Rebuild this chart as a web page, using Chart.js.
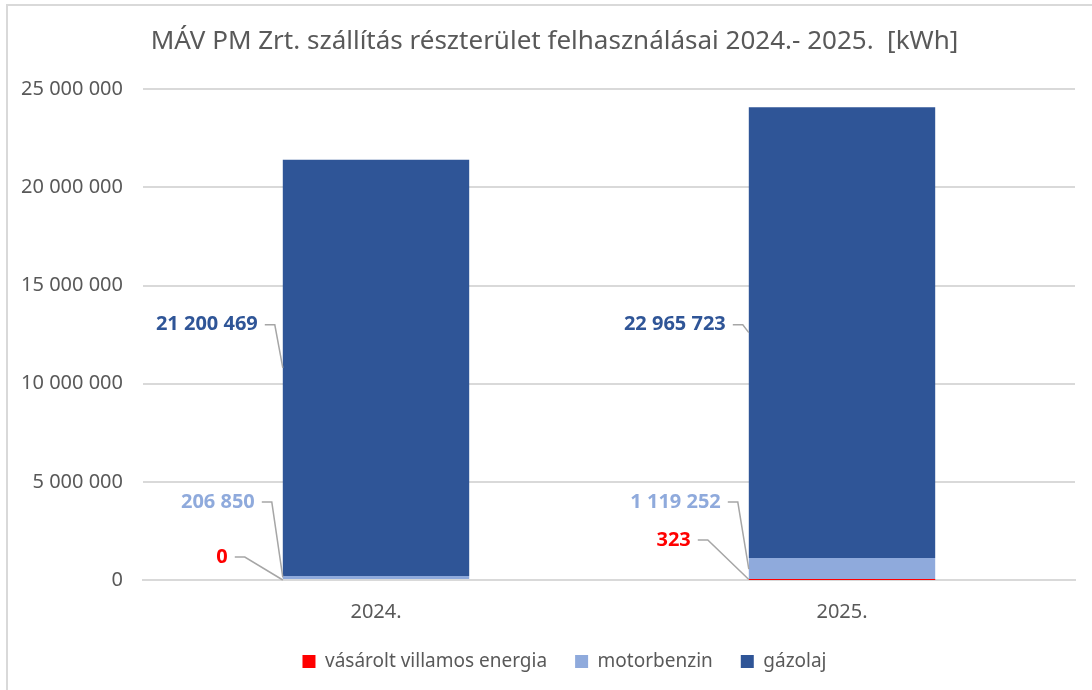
<!DOCTYPE html>
<html>
<head>
<meta charset="utf-8">
<script src="https://cdn.jsdelivr.net/npm/chart.js@4"></script>
<style>
  html, body { margin: 0; padding: 0; background: #fff; }
  #wrap { width: 1092px; height: 690px; position: relative; }
</style>
</head>
<body>
<div id="wrap"><canvas id="myChart" width="1092" height="690"></canvas></div>
<script>
const years = ["2024.", "2025."];
const seriesNames = ["vásárolt villamos energia", "motorbenzin", "gázolaj"];
const villamos = [0, 323];
const motorbenzin = [206850, 1119252];
const gazolaj = [21200469, 22965723];
const yTicks = [0, 5000000, 10000000, 15000000, 20000000, 25000000];
// where the labels sit (value units), Excel placed them by hand
const labelAt = [[1170000, 2040000], [3970000, 3970000], [13000000, 13000000]];
const labelGap = [[55, 58], [28, 28], [25, 23]];

const colors = ["#FF0000", "#8FAADC", "#2F5597"];
const grey = "#595959";
const fmt = (v) => String(v).replace(/\B(?=(\d{3})+(?!\d))/g, " ");

// data labels with leader lines
const leaderLabels = {
  id: "leaderLabels",
  afterDatasetsDraw(chart) {
    const c = chart.ctx;
    const y = chart.scales.y;
    chart.data.datasets.forEach((ds, i) => {
      const meta = chart.getDatasetMeta(i);
      meta.data.forEach((bar, j) => {
        const left = bar.x - bar.width / 2;
        const midY = (bar.y + bar.base) / 2;
        const ly = y.getPixelForValue(labelAt[i][j]);
        const tr = left - labelGap[i][j];
        c.save();
        c.font = "bold 20px 'Noto Sans'";
        c.fillStyle = colors[i];
        c.textAlign = "right";
        c.textBaseline = "middle";
        c.fillText(fmt(ds.data[j]), tr, ly);
        c.strokeStyle = "#a6a6a6";
        c.lineWidth = 1.5;
        c.beginPath();
        c.moveTo(tr + 7, ly);
        c.lineTo(tr + 17, ly);
        c.lineTo(left, midY);
        c.stroke();
        c.restore();
      });
    });
  },
};

// white background + the light frame on top and left
const frame = {
  id: "frame",
  beforeDraw(chart) {
    const c = chart.ctx;
    c.save();
    c.fillStyle = "#fff";
    c.fillRect(0, 0, chart.width, chart.height);
    c.strokeStyle = "#d9d9d9";
    c.lineWidth = 2;
    c.beginPath();
    c.moveTo(7, chart.height);
    c.lineTo(7, 5);
    c.lineTo(chart.width, 5);
    c.stroke();
    c.restore();
  },
};

// excel centres title and legend a bit right of the canvas middle
const nudge = {
  id: "nudge",
  afterLayout(chart) {
    chart.titleBlock.left += 17;
    chart.titleBlock.right += 17;
    chart.legend.left += 27;
    chart.legend.right += 27;
  },
};

const ctx = document.getElementById("myChart");
new Chart(ctx, {
  type: "bar",
  data: {
    labels: years,
    datasets: [
      { label: seriesNames[0], data: villamos, backgroundColor: colors[0], inflateAmount: 0 },
      { label: seriesNames[1], data: motorbenzin, backgroundColor: colors[1] },
      { label: seriesNames[2], data: gazolaj, backgroundColor: colors[2] },
    ],
  },
  options: {
    responsive: false,
    animation: false,
    layout: { padding: { left: 0, right: 17, top: 0, bottom: 9 } },
    barPercentage: 0.4,
    categoryPercentage: 1,
    plugins: {
      title: {
        display: true,
        text: "MÁV PM Zrt. szállítás részterület felhasználásai 2024.- 2025.  [kWh]",
        color: grey,
        font: { family: "'Noto Sans'", size: 26, weight: "normal" },
        padding: { top: 26, bottom: 32 },
      },
      legend: {
        position: "bottom",
        labels: {
          color: grey,
          font: { family: "'Noto Sans'", size: 19 },
          boxWidth: 13,
          boxHeight: 13,
          padding: 28,
        },
      },
      tooltip: { enabled: false },
    },
    scales: {
      x: {
        stacked: true,
        grid: { display: false, drawTicks: false },
        border: { color: "#d9d9d9", width: 2 },
        ticks: { color: grey, font: { family: "'Noto Sans'", size: 20 }, padding: 20 },
        afterFit(s) { s.height = 44; },
      },
      y: {
        stacked: true,
        min: 0,
        max: 25000000,
        afterBuildTicks(s) { s.ticks = yTicks.map((v) => ({ value: v })); },
        afterFit(s) { s.width = 143; },
        grid: { color: "#d9d9d9", lineWidth: 2, drawTicks: false },
        border: { display: false },
        ticks: {
          color: grey,
          font: { family: "'Noto Sans'", size: 20 },
          padding: 20,
          callback: (v) => fmt(v),
        },
      },
    },
  },
  plugins: [frame, nudge, leaderLabels],
});
</script>
</body>
</html>
